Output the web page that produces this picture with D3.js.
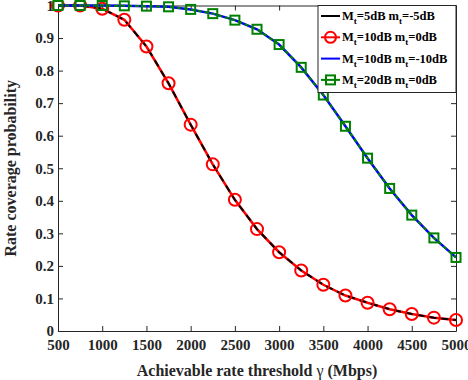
<!DOCTYPE html>
<html>
<head>
<meta charset="utf-8">
<script src="https://cdn.jsdelivr.net/npm/d3@7"></script>
<style>
  body { margin: 0; background: #fff; }
  svg { display: block; }
</style>
</head>
<body>
<div id="chart"></div>
<script>
// rate coverage probability vs. achievable rate threshold

var rates = [500, 750, 1000, 1250, 1500, 1750, 2000, 2250, 2500, 2750, 3000,
  3250, 3500, 3750, 4000, 4250, 4500, 4750, 5000];

// Mt=5dB mt=-5dB and Mt=10dB mt=0dB overlap
var covLow = [1.0, 1.0, 0.99, 0.956, 0.874, 0.761, 0.634, 0.512, 0.403, 0.313,
  0.242, 0.186, 0.142, 0.109, 0.087, 0.067, 0.052, 0.041, 0.034];

// Mt=10dB mt=-10dB and Mt=20dB mt=0dB overlap
var covHigh = [1.0, 1.0, 1.0, 0.999, 0.998, 0.996, 0.988, 0.975, 0.955, 0.927,
  0.88, 0.81, 0.725, 0.629, 0.531, 0.438, 0.356, 0.286, 0.226];

var xTicks = [500, 1000, 1500, 2000, 2500, 3000, 3500, 4000, 4500, 5000];
var yTicks = [0, 0.1, 0.2, 0.3, 0.4, 0.5, 0.6, 0.7, 0.8, 0.9, 1];

var legendItems = [
  { M: '5', m: '-5', color: '#000000', marker: 'none' },
  { M: '10', m: '0', color: '#ff0000', marker: 'circle' },
  { M: '10', m: '-10', color: '#0000ff', marker: 'none' },
  { M: '20', m: '0', color: '#008000', marker: 'square' }
];

var W = 468, H = 380;
var LEFT = 58, RIGHT = 456, TOP = 5.5, BOTTOM = 331;
var FONT = '"Liberation Serif", "Times New Roman", serif';

var svg = d3.select('#chart').append('svg')
  .attr('width', W)
  .attr('height', H)
  .style('font-family', FONT);

var x = d3.scaleLinear().domain([500, 5000]).range([LEFT, RIGHT]);
var y = d3.scaleLinear().domain([0, 1]).range([BOTTOM, TOP]);

function styleAxis(g, showLabels) {
  g.select('.domain').attr('stroke', '#262626').attr('stroke-width', 1);
  g.selectAll('.tick line').attr('stroke', '#262626');
  g.selectAll('.tick text')
    .attr('fill', '#262626')
    .attr('font-size', '15px')
    .attr('font-weight', 'bold')
    .attr('font-family', FONT);
  if (!showLabels) g.selectAll('.tick text').remove();
}

svg.append('g')
  .attr('transform', 'translate(0,' + BOTTOM + ')')
  .call(d3.axisBottom(x).tickValues(xTicks).tickFormat(d3.format('d'))
    .tickSize(-5).tickSizeOuter(0).tickPadding(8))
  .call(styleAxis, true);

svg.append('g')
  .attr('transform', 'translate(0,' + TOP + ')')
  .call(d3.axisTop(x).tickValues(xTicks).tickSize(-5).tickSizeOuter(0))
  .call(styleAxis, false);

svg.append('g')
  .attr('transform', 'translate(' + LEFT + ',0)')
  .call(d3.axisLeft(y).tickValues(yTicks).tickSize(-5).tickSizeOuter(0).tickPadding(4)
    .tickFormat(function(d) { return d === 0 ? '0' : d === 1 ? '1' : d3.format('.1f')(d); }))
  .call(styleAxis, true);

svg.append('g')
  .attr('transform', 'translate(' + RIGHT + ',0)')
  .call(d3.axisRight(y).tickValues(yTicks).tickSize(-5).tickSizeOuter(0))
  .call(styleAxis, false);

var line = d3.line()
  .x(function(d) { return x(d[0]); })
  .y(function(d) { return y(d[1]); });

var lowPts = rates.map(function(r, i) { return [r, covLow[i]]; });
var highPts = rates.map(function(r, i) { return [r, covHigh[i]]; });

// red under, black on top
svg.append('path').attr('d', line(lowPts)).attr('fill', 'none')
  .attr('stroke', '#ff0000').attr('stroke-width', 2.5);
svg.append('path').attr('d', line(lowPts)).attr('fill', 'none')
  .attr('stroke', '#000000').attr('stroke-width', 2)
  .attr('stroke-dasharray', '7,5');

svg.selectAll('circle.mk').data(lowPts).enter().append('circle')
  .attr('class', 'mk')
  .attr('cx', function(d) { return x(d[0]); })
  .attr('cy', function(d) { return y(d[1]); })
  .attr('r', 6)
  .attr('fill', 'none')
  .attr('stroke', '#ff0000')
  .attr('stroke-width', 2);

// blue under, green on top
svg.append('path').attr('d', line(highPts)).attr('fill', 'none')
  .attr('stroke', '#0000ff').attr('stroke-width', 2.5);
svg.append('path').attr('d', line(highPts)).attr('fill', 'none')
  .attr('stroke', '#008000').attr('stroke-width', 2)
  .attr('stroke-dasharray', '4,3');

svg.selectAll('rect.mk').data(highPts).enter().append('rect')
  .attr('class', 'mk')
  .attr('x', function(d) { return x(d[0]) - 4.5; })
  .attr('y', function(d) { return y(d[1]) - 4.5; })
  .attr('width', 9)
  .attr('height', 9)
  .attr('fill', 'none')
  .attr('stroke', '#008000')
  .attr('stroke-width', 2);

// legend
var LG_X = 318, LG_Y = TOP, LG_W = RIGHT - 318, LG_H = 87;
svg.append('rect')
  .attr('x', LG_X).attr('y', LG_Y)
  .attr('width', LG_W).attr('height', LG_H)
  .attr('fill', '#fff')
  .attr('stroke', '#262626')
  .attr('stroke-width', 1);

legendItems.forEach(function(item, i) {
  var cy = 16 + i * 21.3;
  var g = svg.append('g');
  g.append('line')
    .attr('x1', LG_X + 3).attr('x2', LG_X + 22)
    .attr('y1', cy).attr('y2', cy)
    .attr('stroke', item.color).attr('stroke-width', 2);
  if (item.marker === 'circle') {
    g.append('circle').attr('cx', LG_X + 12.5).attr('cy', cy).attr('r', 5.5)
      .attr('fill', 'none').attr('stroke', item.color).attr('stroke-width', 2);
  } else if (item.marker === 'square') {
    g.append('rect').attr('x', LG_X + 8).attr('y', cy - 4.5)
      .attr('width', 9).attr('height', 9)
      .attr('fill', 'none').attr('stroke', item.color).attr('stroke-width', 2);
  }
  var t = g.append('text')
    .attr('x', LG_X + 24)
    .attr('y', cy + 4)
    .attr('font-size', '12.5px')
    .attr('font-weight', 'bold')
    .attr('fill', '#000');
  t.append('tspan').text('M');
  t.append('tspan').attr('font-size', '9px').attr('dy', 4).text('t');
  t.append('tspan').attr('dy', -4).text('=' + item.M + 'dB m');
  t.append('tspan').attr('font-size', '9px').attr('dy', 4).text('t');
  t.append('tspan').attr('dy', -4).text('=' + item.m + 'dB');
});

// axis titles
var xt = svg.append('text')
  .attr('x', (LEFT + RIGHT) / 2)
  .attr('y', 376)
  .attr('text-anchor', 'middle')
  .attr('font-size', '16px')
  .attr('font-weight', 'bold')
  .attr('fill', '#262626');
xt.append('tspan').text('Achievable rate threshold ');
xt.append('tspan').attr('font-weight', 'normal').text('\u03b3');
xt.append('tspan').text(' (Mbps)');

svg.append('text')
  .attr('transform', 'translate(16,' + ((TOP + BOTTOM) / 2) + ') rotate(-90)')
  .attr('text-anchor', 'middle')
  .attr('font-size', '16px')
  .attr('font-weight', 'bold')
  .attr('fill', '#262626')
  .text('Rate coverage probability');
</script>
</body>
</html>
